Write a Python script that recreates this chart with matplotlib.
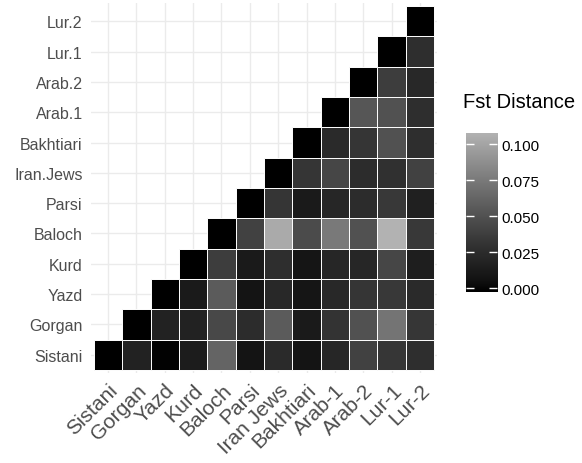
import matplotlib
matplotlib.use("Agg")
import matplotlib.pyplot as plt
import numpy as np
from matplotlib.colors import LinearSegmentedColormap, Normalize

plt.rcParams['font.family'] = ['Liberation Sans', 'DejaVu Sans']

y_labels = ["Sistani", "Gorgan", "Yazd", "Kurd", "Baloch", "Parsi",
            "Iran.Jews", "Bakhtiari", "Arab.1", "Arab.2", "Lur.1", "Lur.2"]
x_labels = ["Sistani", "Gorgan", "Yazd", "Kurd", "Baloch", "Parsi",
            "Iran Jews", "Bakhtiari", "Arab-1", "Arab-2", "Lur-1", "Lur-2"]

# pairwise Fst, row i holds the values for columns i..11 (diagonal first)
fst_sistani = [0.0, 0.0193, 0.0012, 0.0150, 0.0613, 0.0092, 0.0249, 0.0092, 0.0222, 0.0396, 0.0330, 0.0277]
fst_gorgan = [0.0, 0.0193, 0.0193, 0.0441, 0.0263, 0.0558, 0.0135, 0.0310, 0.0497, 0.0707, 0.0330]
fst_yazd = [0.0, 0.0135, 0.0558, 0.0092, 0.0235, 0.0098, 0.0235, 0.0323, 0.0344, 0.0249]
fst_kurd = [0.0, 0.0370, 0.0135, 0.0277, 0.0098, 0.0222, 0.0222, 0.0428, 0.0164]
fst_baloch = [0.0, 0.0396, 0.1006, 0.0460, 0.0731, 0.0497, 0.1050, 0.0344]
fst_parsi = [0.0, 0.0323, 0.0135, 0.0222, 0.0263, 0.0344, 0.0179]
fst_iranjews = [0.0, 0.0323, 0.0428, 0.0263, 0.0290, 0.0396]
fst_bakhtiari = [0.0, 0.0249, 0.0323, 0.0497, 0.0277]
fst_arab1 = [0.0, 0.0528, 0.0497, 0.0277]
fst_arab2 = [0.0, 0.0370, 0.0235]
fst_lur1 = [0.0, 0.0277]
fst_lur2 = [0.0]

rows = [fst_sistani, fst_gorgan, fst_yazd, fst_kurd, fst_baloch, fst_parsi,
        fst_iranjews, fst_bakhtiari, fst_arab1, fst_arab2, fst_lur1, fst_lur2]
legend_ticks = [0, 0.025, 0.05, 0.075, 0.1]

n = len(y_labels)


# black -> grey70 gradient, interpolated linearly in CIELAB lightness
def lab_to_srgb(L):
    fy = (L + 16) / 116
    Y = np.where(L > 8, fy ** 3, L / 903.3)
    return np.where(Y <= 0.0031308, 12.92 * Y, 1.055 * Y ** (1 / 2.4) - 0.055)


grey = lab_to_srgb(np.linspace(0, 72.6, 256))
cmap = LinearSegmentedColormap.from_list("fst", [(g, g, g) for g in grey])
vmax = max(max(r) for r in rows)
norm = Normalize(0, vmax)

fig = plt.figure(figsize=(5.82, 4.64), dpi=100)
ax = fig.add_axes([91 / 582, 90 / 464, 346 / 582, 370 / 464])

# one row of tiles per population, upper triangle only
for i, r in enumerate(rows):
    cols = np.arange(i, n)
    ax.bar(cols, 1.0, width=1.0, bottom=i - 0.5, color=cmap(norm(r)),
           edgecolor="white", linewidth=0.7, zorder=2)

ax.set_xlim(-0.6, n - 0.4)
ax.set_ylim(-0.6, n - 0.4)
ax.set_xticks(range(n))
ax.set_yticks(range(n))
ax.set_xticklabels(x_labels, fontsize=15, color="#4d4d4d")
ax.set_yticklabels(y_labels, fontsize=11.5, color="#4d4d4d")
plt.setp(ax.get_xticklabels(), rotation=45, ha="right", va="top",
         rotation_mode="anchor")
ax.tick_params(axis="x", length=0, pad=5)
ax.tick_params(axis="y", length=0, pad=6)
ax.grid(True, color="#ebebeb", linewidth=1.0, zorder=0)
ax.set_axisbelow(True)
for s in ax.spines.values():
    s.set_visible(False)

# legend bar, padded by half a bin at both ends
half = vmax / 38
cax = fig.add_axes([466 / 582, (464 - 293) / 464, 31 / 582, 159 / 464])
grad = np.linspace(0, vmax, 256).reshape(-1, 1)
cax.imshow(grad, cmap=cmap, norm=norm, aspect="auto", origin="lower",
           extent=[0, 1, -half, vmax + half])
cax.set_xlim(0, 1)
cax.set_ylim(-half, vmax + half)
cax.set_xticks([])
cax.set_yticks(legend_ticks)
cax.set_yticklabels(["0.000", "0.025", "0.050", "0.075", "0.100"])
cax.yaxis.set_ticks_position("both")
cax.yaxis.set_label_position("right")
cax.tick_params(axis="y", direction="in", color="white", length=6, width=1,
                left=True, right=True, labelleft=False, labelright=True,
                labelsize=11, labelcolor="black", pad=3)
for s in cax.spines.values():
    s.set_visible(False)
fig.text(463 / 582, 1 - 102 / 464, "Fst Distance", fontsize=14.5,
         ha="left", va="center")

fig.savefig("out.png", dpi=100, facecolor="white")
